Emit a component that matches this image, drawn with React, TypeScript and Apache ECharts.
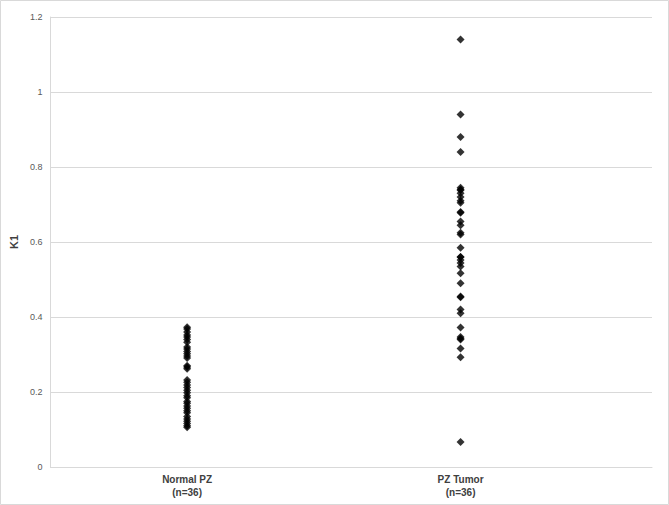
import React, { useEffect, useRef } from "react";
import * as echarts from "echarts";

const categories = ["Normal PZ\n(n=36)", "PZ Tumor\n(n=36)"];
const categoryPositions = [1, 2];

const normalPZ = [
  0.373, 0.368, 0.36, 0.352, 0.347, 0.34, 0.333, 0.32, 0.315, 0.308, 0.302, 0.296,
  0.291, 0.27, 0.267, 0.262, 0.232, 0.226, 0.219, 0.212, 0.205, 0.198, 0.19, 0.185,
  0.175, 0.17, 0.163, 0.157, 0.15, 0.145, 0.135, 0.128, 0.122, 0.116, 0.11, 0.106,
];

const pzTumor = [
  1.14, 0.94, 0.88, 0.84, 0.745, 0.74, 0.738, 0.73, 0.72, 0.71, 0.705, 0.68, 0.678,
  0.655, 0.645, 0.625, 0.62, 0.585, 0.56, 0.56, 0.552, 0.544, 0.535, 0.517, 0.49,
  0.455, 0.453, 0.42, 0.41, 0.372, 0.347, 0.343, 0.34, 0.316, 0.293, 0.067,
];

const yTicks = { min: 0, max: 1.2, interval: 0.2 };

export default function App() {
  const ref = useRef<HTMLDivElement>(null);
  useEffect(() => {
    document.body.style.margin = "0";
    if (!ref.current) return;
    const chart = echarts.init(ref.current, null, { renderer: "svg" });
    const font = "'Liberation Sans', 'Noto Sans', Arial, sans-serif";
    const mk = (vals: number[], x: number) => vals.map((v) => [x, v]);
    chart.setOption({
      animation: false,
      backgroundColor: "#ffffff",
      textStyle: { fontFamily: font },
      graphic: [
        {
          type: "rect",
          shape: { x: 0.5, y: 0.5, width: 668, height: 504 },
          style: { fill: "none", stroke: "#d9d9d9", lineWidth: 1 },
          silent: true,
        },
      ],
      grid: { left: 45, right: 17, top: 17, bottom: 38 },
      xAxis: {
        type: "value",
        min: 0.5,
        max: 2.7,
        interval: 0.5,
        axisLine: { show: true, lineStyle: { color: "#d9d9d9" } },
        axisTick: { show: false },
        splitLine: { show: false },
        axisLabel: {
          showMaxLabel: false,
          showMinLabel: false,
          margin: 6,
          fontSize: 10,
          fontWeight: "bold",
          color: "#404040",
          lineHeight: 13,
          formatter: (v: number) => {
            const i = categoryPositions.findIndex((p) => Math.abs(p - v) < 1e-6);
            return i >= 0 ? categories[i] : "";
          },
        },
      },
      yAxis: {
        type: "value",
        min: yTicks.min,
        max: yTicks.max,
        interval: yTicks.interval,
        name: "K1",
        nameLocation: "middle",
        nameRotate: 90,
        nameGap: 30,
        nameTextStyle: { fontSize: 11, fontWeight: "bold", color: "#404040" },
        axisLine: { show: true, lineStyle: { color: "#d9d9d9" } },
        axisTick: { show: false },
        splitLine: { show: true, lineStyle: { color: "#d9d9d9" } },
        axisLabel: {
          margin: 8,
          fontSize: 9,
          color: "#595959",
          formatter: (v: number) => String(Math.round(v * 10) / 10),
        },
      },
      series: [
        {
          name: "Normal PZ",
          type: "scatter",
          symbol: "diamond",
          symbolSize: 8,
          itemStyle: { color: "#000000" },
          data: mk(normalPZ, categoryPositions[0]),
        },
        {
          name: "PZ Tumor",
          type: "scatter",
          symbol: "diamond",
          symbolSize: 8,
          itemStyle: { color: "#000000" },
          data: mk(pzTumor, categoryPositions[1]),
        },
      ],
    });
    return () => chart.dispose();
  }, []);
  return <div ref={ref} style={{ width: 669, height: 505 }} />;
}
